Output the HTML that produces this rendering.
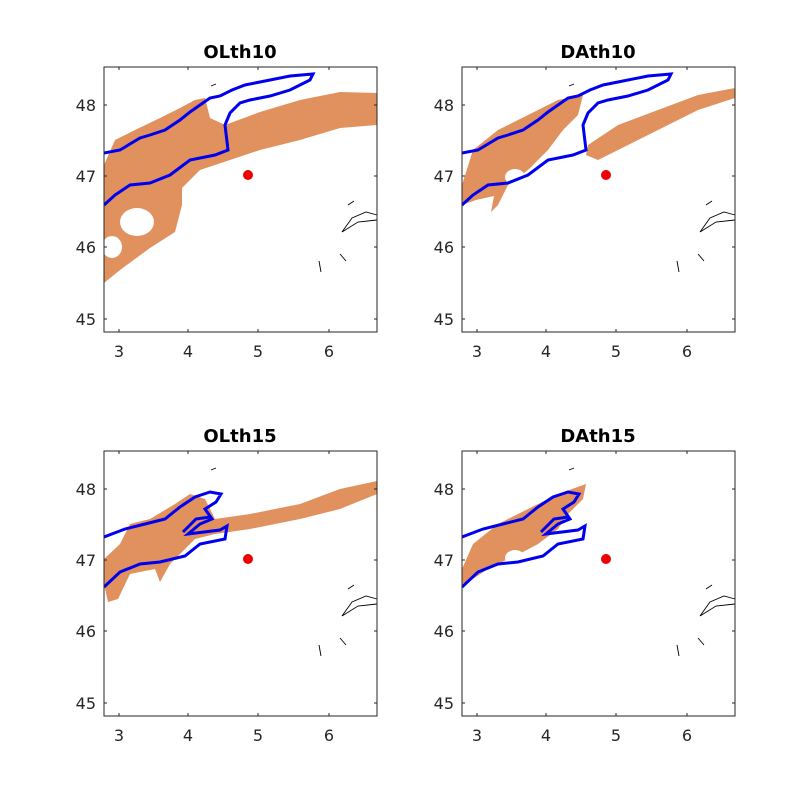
<!DOCTYPE html>
<html><head><meta charset="utf-8"><style>
html,body{margin:0;padding:0;background:#fff}
svg{display:block}
text{font-family:"DejaVu Sans","Liberation Sans",sans-serif}
</style></head><body>
<svg width="811" height="811" viewBox="0 0 811 811" xmlns="http://www.w3.org/2000/svg">
<defs>
<clipPath id="c"><rect x="104" y="67" width="273" height="265"/></clipPath>
<g id="coast" fill="none" stroke="#000" stroke-width="0.9">
<path d="M211,86 L216,84"/>
<path d="M348,205 L354,201"/>
<path d="M342,232 L352,218 L366,212 L377,215 M342,232 L358,222 L377,220"/>
<path d="M340,254 L346,261"/>
<path d="M319,261 L321,272"/>
</g>
<g id="axes">
<rect x="104" y="67" width="273" height="265" fill="none" stroke="#262626" stroke-width="1"/>
<g stroke="#262626" stroke-width="1">
<path d="M119,332 v-3 M188,332 v-3 M258,332 v-3 M329,332 v-3 M119,67 v3 M188,67 v3 M258,67 v3 M329,67 v3"/>
<path d="M104,105 h3 M104,176 h3 M104,247 h3 M104,319 h3 M377,105 h-3 M377,176 h-3 M377,247 h-3 M377,319 h-3"/>
</g>
<g font-size="16" fill="#262626" text-anchor="middle">
<text x="119" y="357">3</text><text x="188" y="357">4</text><text x="258" y="357">5</text><text x="329" y="357">6</text>
</g>
<g font-size="16" fill="#262626" text-anchor="end">
<text x="96" y="111">48</text><text x="96" y="182">47</text><text x="96" y="253">46</text><text x="96" y="325">45</text>
</g>
</g>
</defs>

<g>
<g clip-path="url(#c)">
<path fill="#e0915e" d="M104,165 L115,140 L135,130 L160,118 L180,108 L195,100 L205,98 L210,118 L225,125 L260,112 L300,100 L340,92 L377,93 L377,125 L340,128 L300,140 L260,150 L230,160 L200,170 L182,188 L182,205 L175,232 L150,248 L120,270 L104,283 Z"/>
<ellipse cx="137" cy="222" rx="17" ry="14" fill="#fff"/>
<ellipse cx="112" cy="247" rx="10" ry="11" fill="#fff"/>
<path fill="none" stroke="#0000ee" stroke-width="3" d="M104,153 L120,150 L140,138 L150,135 L165,130 L180,120 L190,112 L200,105 L210,98 L220,96 L232,90 L245,85 L260,82 L290,76 L313,74 L310,80 L290,90 L270,96 L250,100 L240,103 L230,113 L225,125 L228,150 L215,155 L190,160 L170,175 L150,183 L130,185 L115,195 L104,205"/>
</g>
<use href="#coast"/>
<circle cx="248" cy="175" r="5" fill="#ee0000"/>
<use href="#axes"/>
<text x="240" y="58" font-size="18" font-weight="bold" text-anchor="middle" fill="#000">OLth10</text>
</g>

<g transform="translate(358,0)">
<g clip-path="url(#c)">
<path fill="#e0915e" d="M104,185 L115,150 L140,130 L170,115 L200,100 L225,95 L220,115 L205,130 L190,150 L170,170 L150,185 L140,205 L133,212 L136,196 L118,200 L104,205 Z"/>
<path fill="#e0915e" d="M230,145 L260,125 L300,110 L340,95 L377,88 L377,98 L340,110 L300,130 L270,145 L240,160 L228,155 Z"/>
<ellipse cx="157" cy="177" rx="10" ry="8" fill="#fff"/>
<path fill="none" stroke="#0000ee" stroke-width="3" d="M104,153 L120,150 L140,138 L150,135 L165,130 L180,120 L190,112 L200,105 L210,98 L220,96 L232,90 L245,85 L260,82 L290,76 L313,74 L310,80 L290,90 L270,96 L250,100 L240,103 L230,113 L225,125 L228,150 L215,155 L190,160 L170,175 L150,183 L130,185 L115,195 L104,205"/>
</g>
<use href="#coast"/>
<circle cx="248" cy="175" r="5" fill="#ee0000"/>
<use href="#axes"/>
<text x="240" y="58" font-size="18" font-weight="bold" text-anchor="middle" fill="#000">DAth10</text>
</g>

<g transform="translate(0,384)">
<g clip-path="url(#c)">
<path fill="#e0915e" d="M104,175 L120,160 L130,140 L150,135 L175,120 L190,110 L205,115 L215,135 L250,130 L300,120 L340,105 L377,97 L377,110 L340,125 L300,135 L250,145 L215,150 L195,155 L170,180 L160,198 L155,185 L130,190 L118,215 L108,218 L104,200 Z"/>
<path fill="none" stroke="#0000ee" stroke-width="3" d="M104,153 L125,145 L145,140 L165,135 L180,123 L195,113 L210,108 L221,110 L216,118 L205,125 L212,135 L200,140 L188,150 L220,146 L227,142 L225,155 L200,160 L185,172 L160,178 L140,180 L120,188 L104,203"/>
<path fill="none" stroke="#0000ee" stroke-width="3" d="M183,148 L196,135 L210,133"/>
</g>
<use href="#coast"/>
<circle cx="248" cy="175" r="5" fill="#ee0000"/>
<use href="#axes"/>
<text x="240" y="58" font-size="18" font-weight="bold" text-anchor="middle" fill="#000">OLth15</text>
</g>

<g transform="translate(358,384)">
<g clip-path="url(#c)">
<path fill="#e0915e" d="M104,185 L115,160 L140,140 L170,125 L200,110 L228,100 L225,115 L210,130 L200,145 L180,160 L165,168 L150,175 L130,185 L110,198 L104,200 Z"/>
<ellipse cx="157" cy="174" rx="10" ry="8" fill="#fff"/>
<path fill="none" stroke="#0000ee" stroke-width="3" d="M104,153 L125,145 L145,140 L165,135 L180,123 L195,113 L210,108 L221,110 L216,118 L205,125 L212,135 L200,140 L188,150 L220,146 L227,142 L225,155 L200,160 L185,172 L160,178 L140,180 L120,188 L104,203"/>
<path fill="none" stroke="#0000ee" stroke-width="3" d="M183,148 L196,135 L210,133"/>
</g>
<use href="#coast"/>
<circle cx="248" cy="175" r="5" fill="#ee0000"/>
<use href="#axes"/>
<text x="240" y="58" font-size="18" font-weight="bold" text-anchor="middle" fill="#000">DAth15</text>
</g>
</svg>
</body></html>
